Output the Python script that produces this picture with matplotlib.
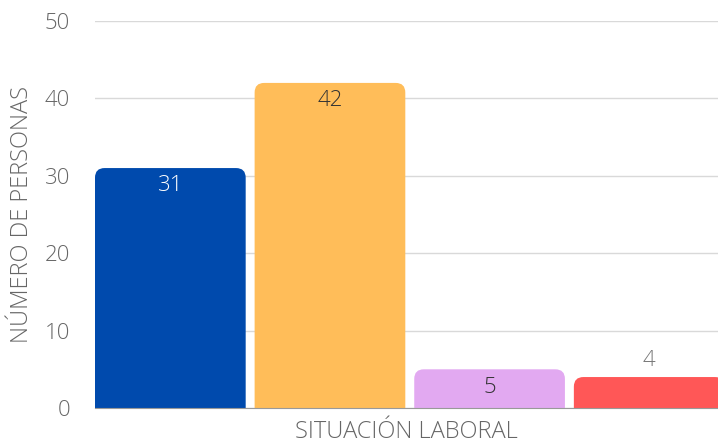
import matplotlib.pyplot as plt
from matplotlib.patches import FancyBboxPatch

# data
categories = ["A", "B", "C", "D"]
values = [31, 42, 5, 4]
colors = ["#004aad", "#ffbd59", "#e2a9f1", "#ff5757"]
label_colors = ["#ffffff", "#333333", "#333333", "#777777"]

plt.rcParams['font.family'] = ['Open Sans', 'DejaVu Sans']

fig = plt.figure(figsize=(7.18, 4.46), dpi=100)
ax = fig.add_axes([95 / 718, 38 / 446, 623 / 718, 387 / 446])

ax.set_xlim(-0.472, 3.431)
ax.set_ylim(0, 50)

# y px per unit vs x px per unit, for round corners
aspect = (623 / 3.903) / (387 / 50)
width = 0.944
for i, v in enumerate(values):
    box = FancyBboxPatch((i - width / 2, -3), width, v + 3,
                         boxstyle="round,pad=0,rounding_size=0.06",
                         mutation_aspect=aspect,
                         fc=colors[i], ec="none", zorder=3)
    ax.add_patch(box)
    if v >= 5:
        ax.text(i, v - 2.3, str(v), ha="center", va="center", fontsize=16,
                color=label_colors[i], fontweight="light", zorder=4)
    else:
        ax.text(i, v + 2.2, str(v), ha="center", va="center", fontsize=16,
                color=label_colors[i], fontweight="light", zorder=4)

ax.set_yticks([0, 10, 20, 30, 40, 50])
ax.set_xticks([])
ax.grid(axis="y", color="#d9d9d9", linewidth=1, zorder=0)
ax.set_axisbelow(True)
for s in ["top", "right", "left"]:
    ax.spines[s].set_visible(False)
ax.spines["bottom"].set_color("#999999")
ax.spines["bottom"].set_zorder(5)
ax.tick_params(axis="y", length=0, pad=18, labelsize=16, labelcolor="#666666")
for t in ax.get_yticklabels():
    t.set_fontweight("light")

ax.set_ylabel("NÚMERO DE PERSONAS", fontsize=17, color="#666666",
              fontweight="light", labelpad=8)
ax.set_xlabel("SITUACIÓN LABORAL", fontsize=17, color="#666666",
              fontweight="light", labelpad=9)

fig.savefig("out.png", dpi=100)
